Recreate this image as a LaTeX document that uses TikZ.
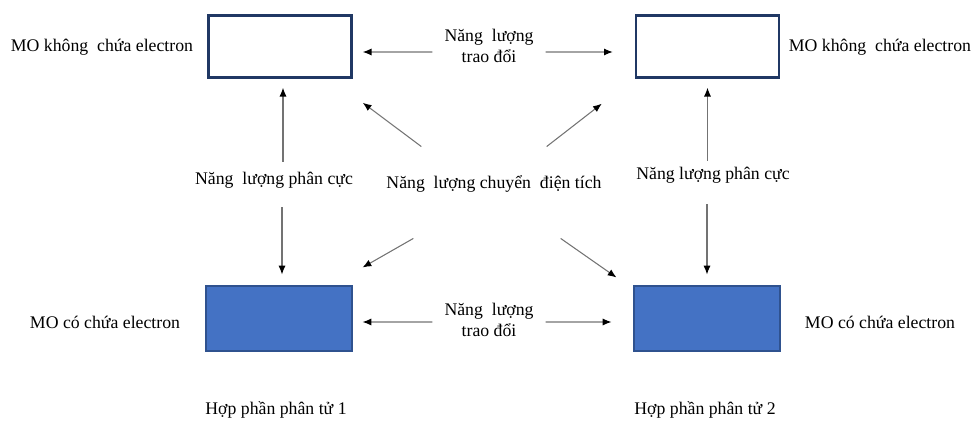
\documentclass[tikz,border=0pt]{standalone}
\usepackage{fontspec}
\setmainfont{Liberation Serif}
\usetikzlibrary{arrows.meta}

\definecolor{navy}{HTML}{203864}
\definecolor{moblue}{HTML}{4472C4}
\definecolor{moedge}{HTML}{2F528F}

\begin{document}
\begin{tikzpicture}[font=\fontsize{10.1}{12.4}\selectfont,x=0.02cm,y=-0.02cm]
    \tikzset{
        empty/.style={
            draw=navy,
            line width=1.4pt,
            minimum width=2.86cm,
            minimum height=1.24cm
        },
        filled/.style={
            draw=moedge,
            fill=moblue,
            line width=0.6pt,
            minimum width=2.92cm,
            minimum height=1.30cm
        },
        link/.style={-{Latex[black,length=5pt,width=4pt]},draw=black!55,line width=0.6pt},
        label/.style={align=center,inner sep=1pt}
    }
    \useasboundingbox (0,0) rectangle (976,421);

    \node[empty] (tl) at (280,46.5) {};
    \node[empty] (tr) at (707.5,46.5) {};
    \node[filled] (bl) at (279,318.5) {};
    \node[filled] (br) at (707,318.5) {};

    \node[label] (motl) at (102,47) {MO không\ \ chứa electron};
    \node[label] (motr) at (880,47) {MO không\ \ chứa electron};
    \node[label] (mobl) at (105,322) {MO có chứa electron};
    \node[label] (mobr) at (880,322) {MO có chứa electron};

    \node[label] (tdt) at (489,46) {Năng\ \ lượng\\trao đổi};
    \node[label] (tdb) at (489,320) {Năng\ \ lượng\\trao đổi};
    \node[label] (pcl) at (274,180) {Năng\ \ lượng phân cực};
    \node[label] (pcr) at (713,175) {Năng lượng phân cực};
    \node[label] (ct) at (494,184) {Năng\ \ lượng chuyển\ \ điện tích};

    \node[label] (hp1) at (276,410) {Hợp phần phân tử 1};
    \node[label] (hp2) at (705,410) {Hợp phần phân tử 2};

    % trao doi
    \draw[link] ([shift={(-10,6)}]tdt.west) -- ([shift={(10,5.5)}]tl.east);
    \draw[link] ([shift={(10,6)}]tdt.east) -- ([shift={(-22,5.5)}]tr.west);
    \draw[link] ([shift={(-10,2)}]tdb.west) -- ([shift={(10,3.5)}]bl.east);
    \draw[link] ([shift={(10,2)}]tdb.east) -- ([shift={(-22,3.5)}]br.west);

    % phan cuc
    \draw[link] ([shift={(3,-8)}]pcl.north -| tl.south) -- ([shift={(3,9)}]tl.south);
    \draw[link] ([shift={(3,17)}]pcl.south -| bl.north) -- ([shift={(3,-11)}]bl.north);
    \draw[link] ([shift={(0,-4)}]pcr.north -| tr.south) -- ([shift={(0,9)}]tr.south);
    \draw[link] ([shift={(0,19)}]pcr.south -| br.north) -- ([shift={(0,-11)}]br.north);

    % chuyen dien tich
    \draw[link] ([shift={(37,-27)}]ct.north west) -- ([shift={(10,24)}]tl.south east);
    \draw[link] ([shift={(-57,-27)}]ct.north east) -- ([shift={(-33,25)}]tr.south west);
    \draw[link] ([shift={(29,44)}]ct.south west) -- ([shift={(10,-18)}]bl.north east);
    \draw[link] ([shift={(-43,44)}]ct.south east) -- ([shift={(-17,-8)}]br.north west);
\end{tikzpicture}
\end{document}
